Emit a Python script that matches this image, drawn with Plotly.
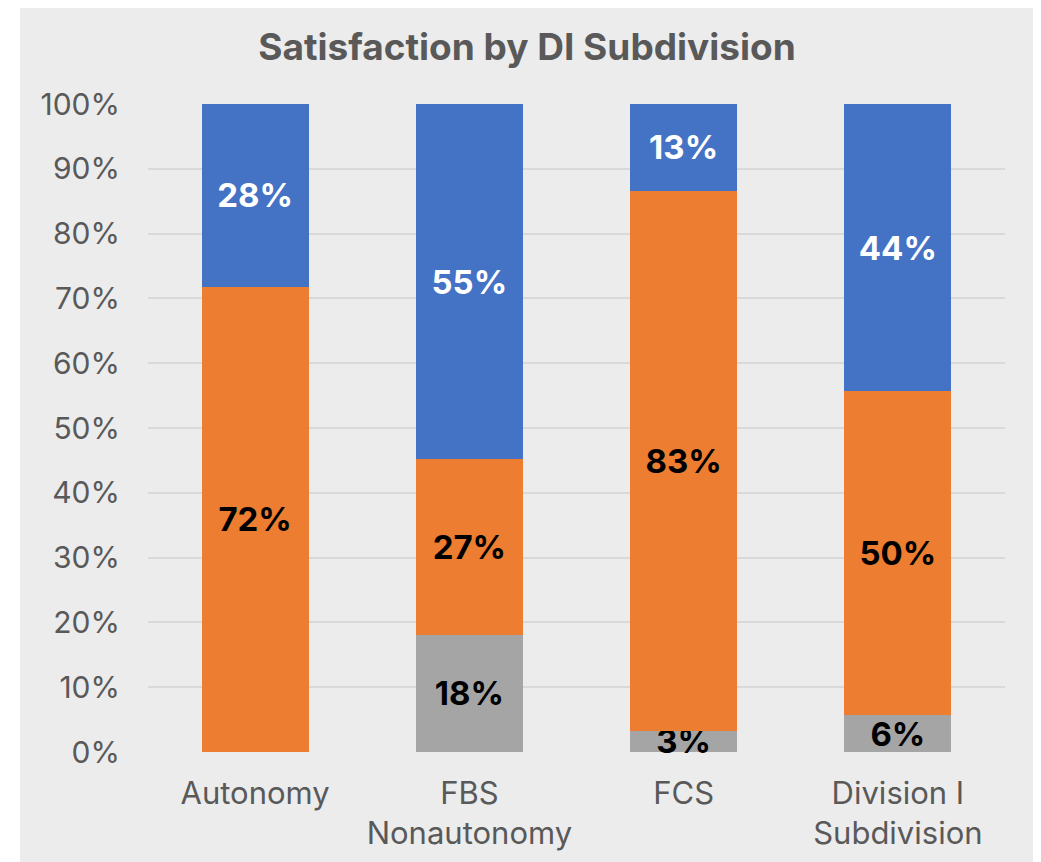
import plotly.graph_objects as go

# Data (shares in %)
categories = ["Autonomy", "FBS<br>Nonautonomy", "FCS", "Division I<br>Subdivision"]
gray_vals = [0.0, 18.1, 3.3, 5.7]
orange_vals = [71.8, 27.1, 83.3, 50.0]
blue_vals = [28.2, 54.8, 13.4, 44.3]

FONT = "Inter"
TXT = "#595959"
OFF = 8  # page body margin
W, H = 1041 - OFF, 862 - OFF
ML, MR, MT, MB = 148 - OFF, 36, 104 - OFF, 110


def labels(vals):
    return [f"{v:.0f}%" if v > 0 else "" for v in vals]


fig = go.Figure()
series = [
    ("Gray", gray_vals, "#A5A5A5", "black"),
    ("Orange", orange_vals, "#ED7D31", "black"),
    ("Blue", blue_vals, "#4472C4", "white"),
]
for name, vals, col, tcol in series:
    fig.add_trace(go.Bar(
        x=categories, y=vals, name=name,
        marker=dict(color=col, line=dict(width=0)),
        text=labels(vals), textposition="inside", insidetextanchor="middle",
        constraintext="none", textangle=0, cliponaxis=False,
        textfont=dict(family=FONT, size=33, color=tcol, weight="bold"),
    ))

# light gray panel behind the chart (white strip on the left/top/right)
pw, ph = W - ML - MR, H - MT - MB
fig.add_shape(
    type="rect", xref="paper", yref="paper", layer="below",
    x0=(20 - OFF - ML) / pw, x1=(1035 - OFF - ML) / pw,
    y0=-MB / ph, y1=(H - MB - (3 - OFF)) / ph,
    fillcolor="#ECECEC", line=dict(width=0),
)

fig.update_layout(
    width=W, height=H,
    margin=dict(l=ML, r=MR, t=MT, b=MB),
    barmode="stack", bargap=0.5,
    paper_bgcolor="white", plot_bgcolor="rgba(0,0,0,0)",
    showlegend=False,
    font=dict(family=FONT, color=TXT),
    title=dict(
        text="<b>Satisfaction by DI Subdivision</b>",
        x=(527 - OFF) / W, xanchor="center", y=1 - (47 - OFF) / H, yanchor="middle",
        font=dict(family=FONT, size=37, color=TXT),
    ),
    yaxis=dict(
        range=[0, 100], dtick=10, ticksuffix="%",
        showgrid=True, gridcolor="#D9D9D9", gridwidth=2,
        zeroline=False, showline=False, ticks="",
        tickfont=dict(family=FONT, size=30, color=TXT),
        ticklabelstandoff=27,
    ),
    xaxis=dict(
        showgrid=False, showline=False, ticks="",
        tickfont=dict(family=FONT, size=31, color=TXT),
        ticklabelstandoff=20,
    ),
)

fig.write_html("out.html")
